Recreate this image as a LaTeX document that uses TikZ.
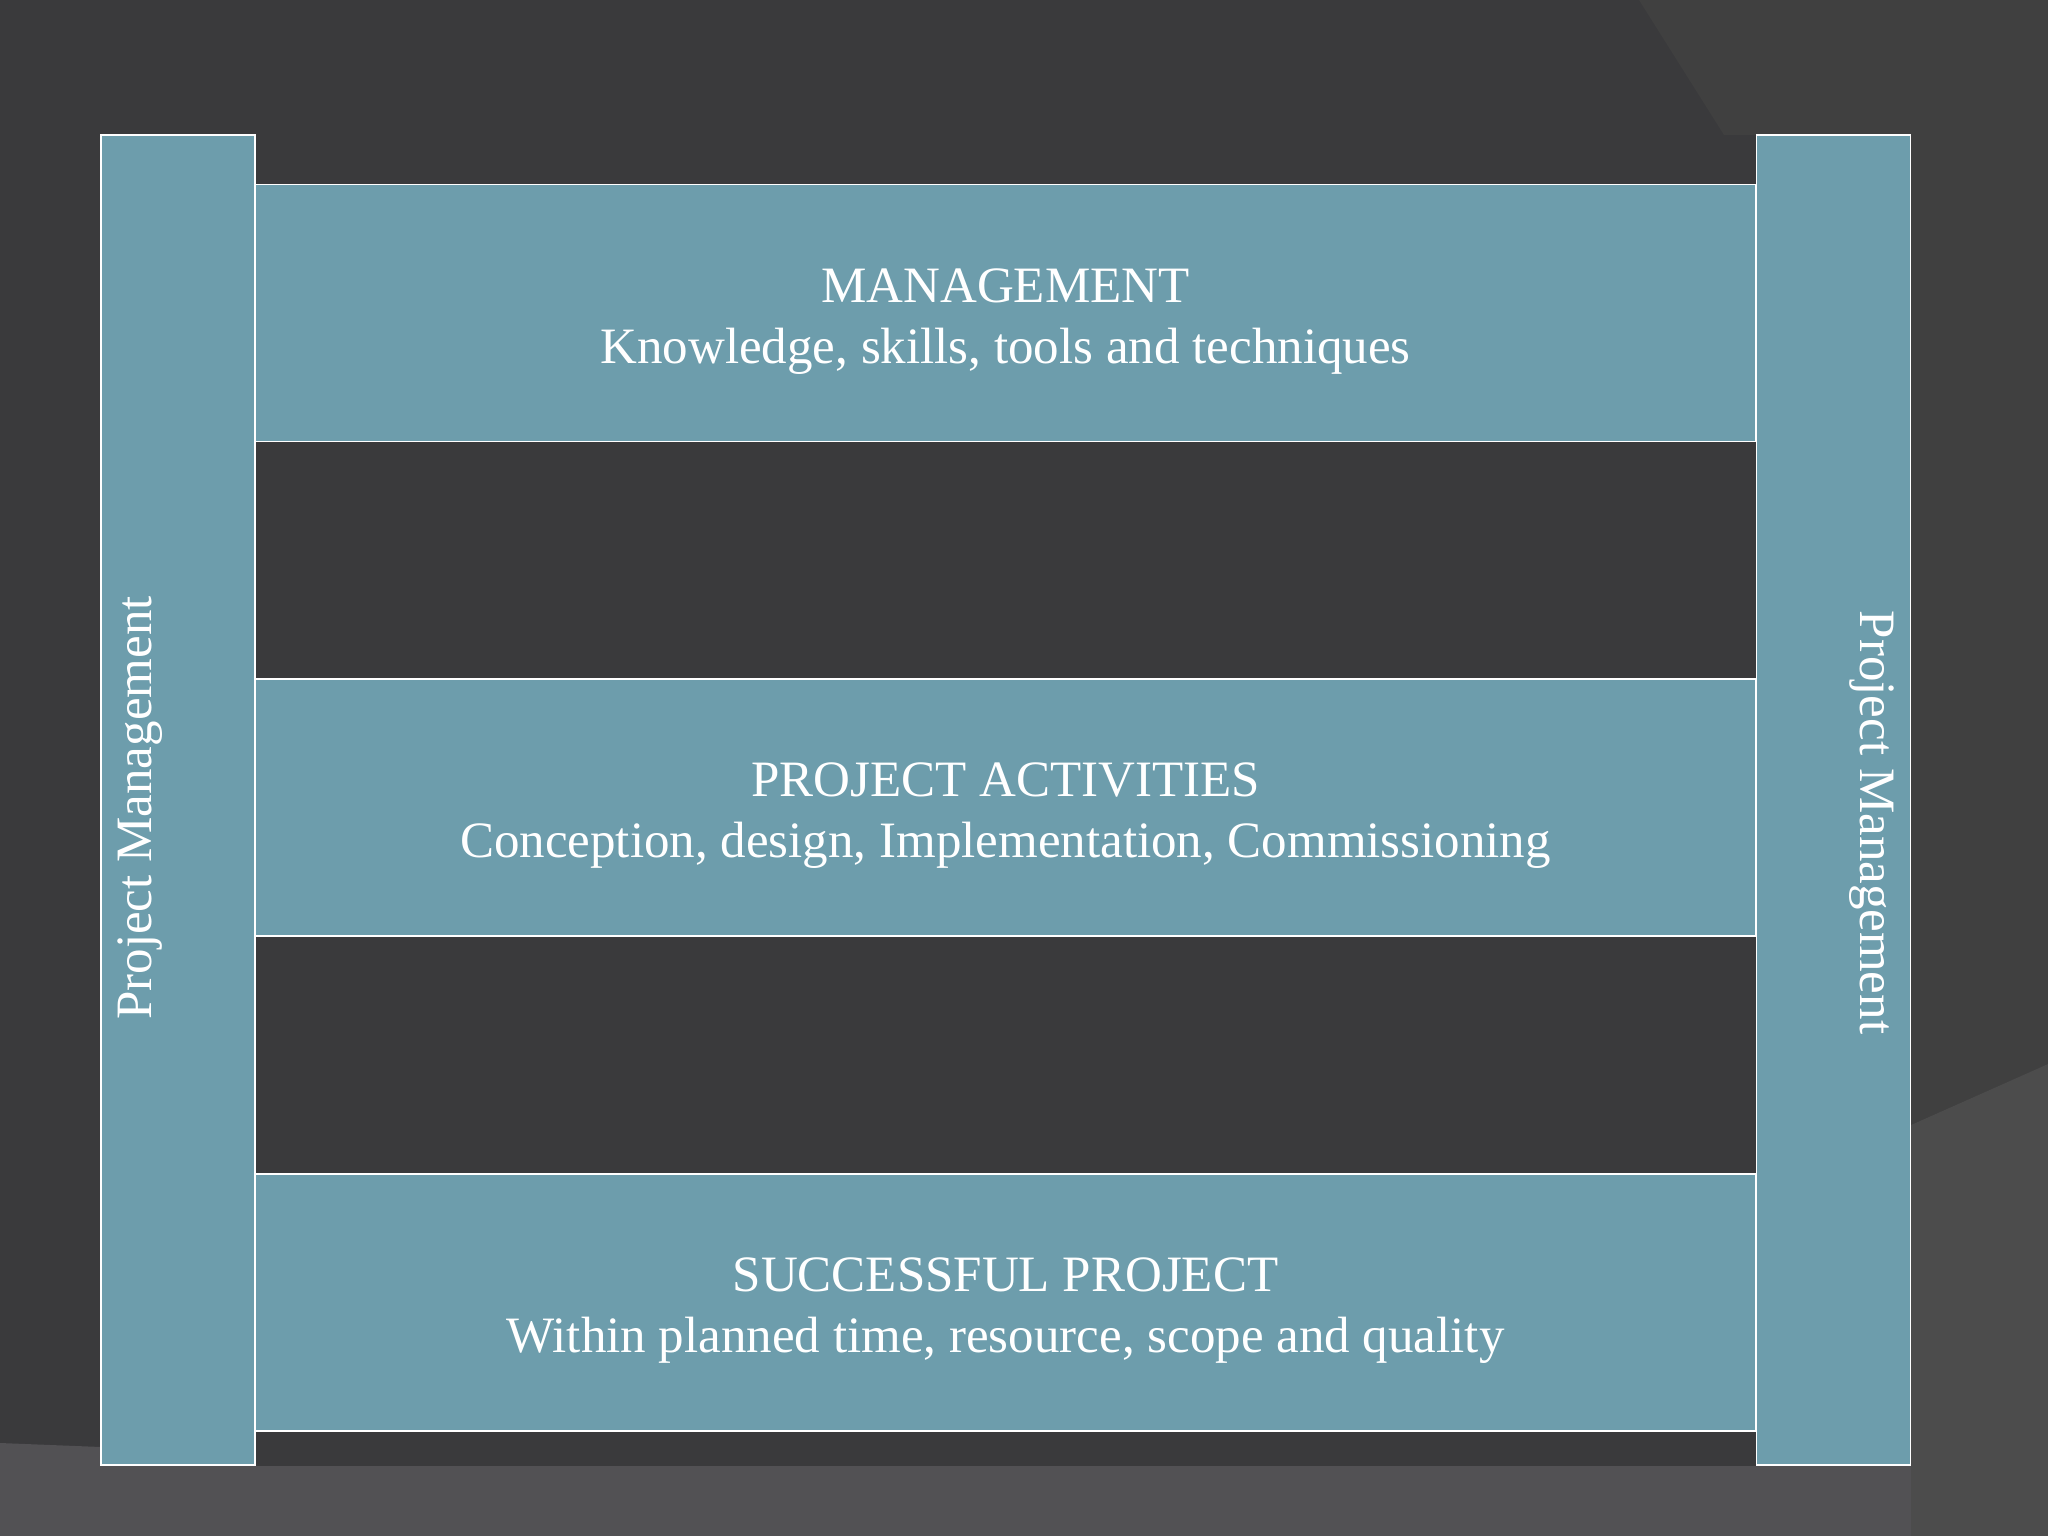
\documentclass[tikz,border=0pt]{standalone}
\usepackage{fontspec}
\setmainfont{Liberation Serif}
\definecolor{slate}{RGB}{58,58,60}
\definecolor{slatemid}{RGB}{64,64,64}
\definecolor{slatelow}{RGB}{76,76,76}
\definecolor{slatefloor}{RGB}{82,81,84}
\definecolor{barblue}{RGB}{109,157,172}

\begin{document}
\begin{tikzpicture}[x=1pt, y=-1pt,
  band/.style={draw=white, line width=1.5pt, fill=barblue, minimum width=1501pt, minimum height=257pt, inner sep=0pt},
  pillar/.style={draw=white, line width=1.5pt, fill=barblue, minimum width=154pt, minimum height=1330pt, inner sep=0pt},
  lbl/.style={text=white, align=center, font=\fontsize{51}{61.2}\selectfont}]

% background
\fill[slate] (0,0) rectangle (2048,1536);
\fill[slatemid] (1639,0) -- (2048,0) -- (2048,1064) -- (1911,1125) -- (1911,135) -- (1724,135) -- cycle;
\fill[slatefloor] (0,1443) -- (101,1447) -- (101,1466) -- (2048,1466) -- (2048,1536) -- (0,1536) -- cycle;
\fill[slatelow] (2048,1064) -- (2048,1536) -- (1911,1536) -- (1911,1125) -- cycle;

\begin{scope}
    \node[band] (mgmt) at (1005.5,313) {};
    \node[band] (activ) at (1005.5,807.5) {};
    \node[band] (success) at (1005.5,1302.5) {};
    \node[pillar] (leftpm) at (178,800) {};
    \node[pillar] (rightpm) at (1833.5,800) {};
\end{scope}

\node[lbl] (mgmttxt) at ([yshift=-8.5pt]mgmt.center) {MANAGEMENT\\Knowledge, skills, tools and techniques};
\node[lbl] (activtxt) at ([yshift=-8.5pt]activ.center) {PROJECT ACTIVITIES\\Conception, design, Implementation, Commissioning};
\node[lbl] (successtxt) at ([yshift=-8.5pt]success.center) {SUCCESSFUL PROJECT\\Within planned time, resource, scope and quality};

\path (leftpm) +(-38,8) node[lbl, rotate=90] (lefttxt) {Project Management};
\path (rightpm) +(38.5,22.5) node[lbl, rotate=-90] (righttxt) {Project Management};

\end{tikzpicture}
\end{document}
